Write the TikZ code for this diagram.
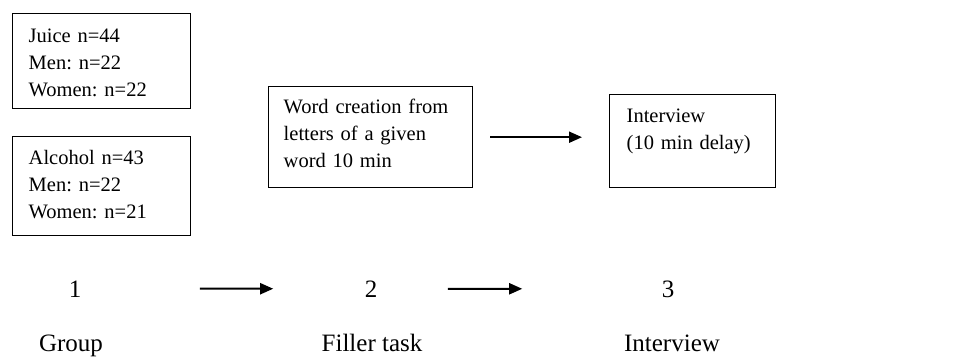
\documentclass[tikz,border=0pt]{standalone}
\usepackage{fontspec}
\setmainfont{Liberation Serif}
\usetikzlibrary{arrows.meta}
\frenchspacing

\begin{document}
\begin{tikzpicture}
[x=1pt, y=-1pt,
 box/.style={draw, rectangle, line width=1.4pt, anchor=north west, inner ysep=0pt, align=left, font={\fontsize{20.5}{27}\selectfont}},
 num/.style={anchor=base, font={\fontsize{25}{30}\selectfont}},
 lbl/.style={anchor=base, font={\fontsize{25}{30}\selectfont}},
 flow/.style={-{Triangle[length=13pt,width=11pt]}, line width=2pt}]
\useasboundingbox (0,0) rectangle (953,358);

% groups
\node (juice) at (12,13) [box, inner xsep=16pt, text width=146pt, text height=29pt, text depth=66pt]
  {Juice n=44\\Men: n=22\\Women: n=22};
\node (alcohol) at (12,136) [box, inner xsep=16pt, text width=146pt, text height=28pt, text depth=71pt]
  {Alcohol n=43\\Men: n=22\\Women: n=21};

% filler task and interview
\node (filler) at (268,86) [box, inner xsep=15pt, text width=174pt, text height=27pt, text depth=74pt]
  {Word creation from\\letters of a given\\word 10 min};
\node (intv) at (609,94) [box, inner xsep=17pt, text width=132pt, text height=28pt, text depth=65pt]
  {Interview\\(10 min delay)};

\draw[flow, shorten <=17pt, shorten >=27pt] (filler.east) -- (filler.east -| intv.west);

% steps
\node (n1) at (75,297) [num] {1};
\node (n2) at (371,297) [num] {2};
\node (n3) at (668,297) [num] {3};

\node (group) at (71,351) [lbl] {Group};
\node (task) at (372,351) [lbl] {Filler task};
\node (interview) at (672,351) [lbl] {Interview};

\draw[flow, shorten <=115pt, shorten >=88pt] (n1) -- (n2);
\draw[flow, shorten <=67pt, shorten >=136pt] (n2) -- (n3);
\end{tikzpicture}
\end{document}
